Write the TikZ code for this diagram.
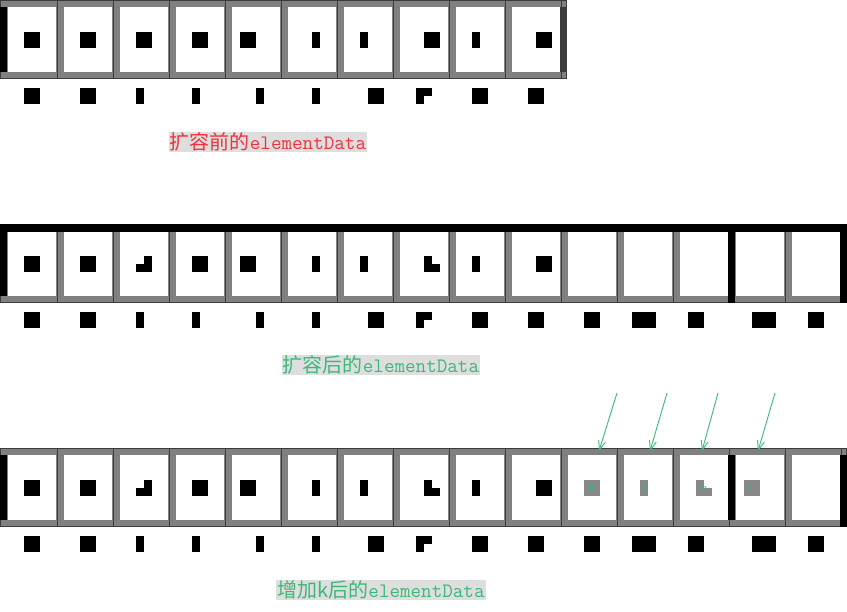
\documentclass[tikz,border=0pt]{standalone}
\usepackage{fontspec}
\setmainfont{Liberation Mono}
\newfontfamily\cjk{Noto Sans CJK SC}
\usetikzlibrary{arrows.meta}
\definecolor{bandgray}{RGB}{128,128,128}
\definecolor{darkline}{RGB}{60,60,60}
\definecolor{redtxt}{RGB}{240,50,60}
\definecolor{greentxt}{RGB}{60,185,120}
\definecolor{itemgray}{RGB}{136,136,136}
\definecolor{capback}{RGB}{222,222,222}
\def\blobcol{black}
\newcommand\shS[2]{\fill[\blobcol] (#1,#2) rectangle ++(16,16);}
\newcommand\shN[2]{\fill[\blobcol] (#1,#2) rectangle ++(8,16);}
\newcommand\shW[2]{\fill[\blobcol] (#1,#2) rectangle ++(24,16);}
\newcommand\shTL[2]{\fill[\blobcol] ({#1+8},#2) rectangle ++(8,8); \fill[\blobcol] (#1,{#2+8}) rectangle ++(16,8);}
\newcommand\shTR[2]{\fill[\blobcol] (#1,#2) rectangle ++(8,8); \fill[\blobcol] (#1,{#2+8}) rectangle ++(16,8);}
\newcommand\shG[2]{\fill[\blobcol] (#1,#2) rectangle ++(16,8); \fill[\blobcol] (#1,{#2+8}) rectangle ++(8,8);}
% #1 top, #2 bottom, #3 number of cells
\newcommand\drawrow[3]{%
  \fill[bandgray] (0,#1) rectangle ({#3*56+7},#2);
  \foreach \i in {1,...,#3} {\fill[white] ({(\i-1)*56+8},{#1+7}) rectangle ({\i*56},{#2-7});}
  \foreach \i in {1,...,#3} {\draw[darkline,line width=0.7pt] ({\i*56+1},#1) -- ({\i*56+1},#2);}
  \draw[darkline,line width=0.7pt] (0.4,{#1+0.4}) rectangle ({#3*56+6.6},{#2-0.4});
}
\newcommand\labelrow[1]{%
  \shS{24}{#1}\shS{80}{#1}\shN{136}{#1}\shN{192}{#1}\shN{256}{#1}\shN{312}{#1}\shS{368}{#1}\shG{416}{#1}\shS{472}{#1}\shS{528}{#1}}
\newcommand\contentrow[1]{%
  \shS{24}{#1}\shS{80}{#1}\shTL{136}{#1}\shS{192}{#1}\shS{240}{#1}\shN{312}{#1}\shN{360}{#1}\shTR{424}{#1}\shN{472}{#1}\shS{536}{#1}}
\newcommand\extralabels[1]{%
  \shS{584}{#1}\shW{632}{#1}\shS{688}{#1}\shW{752}{#1}\shS{808}{#1}}
\newcommand\captxt[1]{{\cjk\fontsize{20}{20}\selectfont #1}}
\tikzset{
  caption/.style={inner xsep=1pt,inner ysep=1pt,fill=capback,font=\ttfamily\fontsize{20.5}{20}\selectfont},
  addarrow/.style={greentxt,line width=0.9pt,-{Straight Barb[length=9pt,width=7pt,line width=0.9pt]}},
  itemtxt/.style={inner sep=0pt,text=greentxt,font=\fontsize{11}{11}\selectfont}
}
\begin{document}
\begin{tikzpicture}[x=1pt,y=-1pt]
\useasboundingbox (0,0) rectangle (847,612);
\fill[white] (0,0) rectangle (847,612);
% ---------- row 1: before growth ----------
\drawrow{0}{79}{10}
\fill[black] (0,7) rectangle (7,72);
\fill[darkline] (560,7) rectangle (567,72);
\shS{24}{32}\shS{80}{32}\shS{136}{32}\shS{192}{32}\shS{240}{32}\shN{312}{32}\shN{360}{32}\shS{424}{32}\shN{472}{32}\shS{536}{32}
\labelrow{88}
\node[caption,text=redtxt] (cap1) at (268,142) {\captxt{扩容前的}elementData};
% ---------- row 2: after growth ----------
\drawrow{224}{303}{15}
\fill[black] (0,224) rectangle (847,232);
\fill[black] (0,224) rectangle (7,296);
\fill[black] (728,224) rectangle (735,303);
\fill[black] (840,224) rectangle (847,303);
\contentrow{256}
\labelrow{312}\extralabels{312}
\node[caption,text=greentxt] (cap2) at (381,365) {\captxt{扩容后的}elementData};
% ---------- row 3: after adding k ----------
\drawrow{448}{527}{15}
\fill[black] (0,455) rectangle (7,520);
\fill[black] (728,455) rectangle (735,520);
\fill[black] (840,455) rectangle (847,527);
\contentrow{480}
\labelrow{536}\extralabels{536}
\begin{scope}
\def\blobcol{itemgray}
\shS{584}{480}\shN{640}{480}\shTR{696}{480}\shS{744}{480}
\end{scope}
\node[itemtxt] (k1) at (592,488) {k};
\node[itemtxt] (k2) at (644,488) {l};
\node[itemtxt] (k3) at (704,489) {b};
\node[itemtxt] (k4) at (752,489) {n};
\coordinate (s1) at (617,393); \coordinate (t1) at (599,451);
\coordinate (s2) at (667,393); \coordinate (t2) at (650,451);
\coordinate (s3) at (718,393); \coordinate (t3) at (702,451);
\coordinate (s4) at (775,393); \coordinate (t4) at (758,451);
\draw[addarrow] (s1) -- (t1);
\draw[addarrow] (s2) -- (t2);
\draw[addarrow] (s3) -- (t3);
\draw[addarrow] (s4) -- (t4);
\node[caption,text=greentxt] (cap3) at (381,590) {\captxt{增加k后的}elementData};
\end{tikzpicture}
\end{document}
